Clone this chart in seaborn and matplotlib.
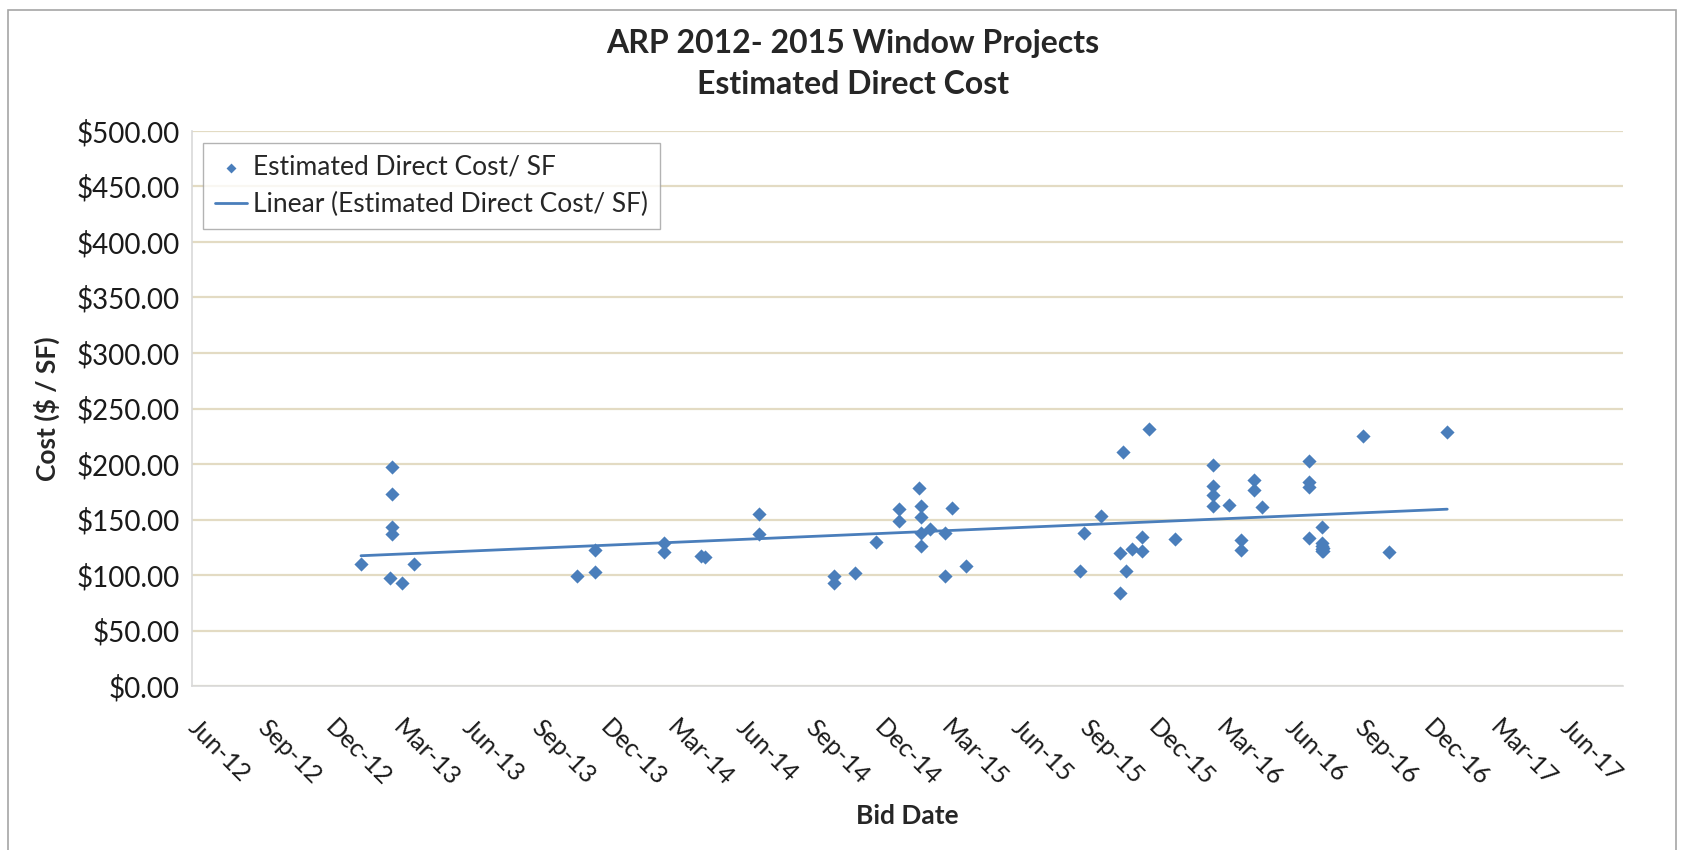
import pandas as pd
import numpy as np
import seaborn as sns
import matplotlib
matplotlib.use("Agg")
import matplotlib.pyplot as plt
import matplotlib.dates as mdates
from matplotlib.ticker import FuncFormatter

# bid dates and estimated direct cost per SF
bid_dates = [
    "2013-01-12",
    "2013-02-22", "2013-02-22", "2013-02-22", "2013-02-22",
    "2013-02-20", "2013-03-08", "2013-03-23",
    "2013-10-27", "2013-11-19", "2013-11-19",
    "2014-02-20", "2014-02-20", "2014-04-09", "2014-04-15",
    "2014-06-26", "2014-06-26",
    "2014-10-03", "2014-10-03", "2014-11-01", "2014-11-28",
    "2014-12-29", "2014-12-29",
    "2015-01-25", "2015-01-27", "2015-01-27", "2015-01-27", "2015-01-27",
    "2015-02-09", "2015-03-01", "2015-03-01", "2015-03-10", "2015-03-29",
    "2015-08-27", "2015-09-02", "2015-09-24",
    "2015-10-20", "2015-10-20", "2015-10-23", "2015-10-27",
    "2015-11-04", "2015-11-18", "2015-11-18", "2015-11-27",
    "2016-01-01",
    "2016-02-20", "2016-02-20", "2016-02-20", "2016-02-20",
    "2016-03-13", "2016-03-29", "2016-03-29",
    "2016-04-15", "2016-04-15", "2016-04-25",
    "2016-06-27", "2016-06-27", "2016-06-27", "2016-06-27",
    "2016-07-14", "2016-07-14", "2016-07-14", "2016-07-14", "2016-07-14",
    "2016-07-15", "2016-07-15",
    "2016-09-07", "2016-10-11", "2016-12-28",
]
cost_per_sf = [
    110,
    197, 173, 143.5, 137,
    97, 92.5, 110,
    99, 122.5, 103,
    129, 121, 117.5, 116,
    155, 137,
    99.5, 92.5, 101.5, 129.5,
    159.5, 148.5,
    178.5, 162, 152.5, 137.5, 126,
    141, 137.5, 99.5, 160, 108.5,
    104, 138, 153,
    120, 84, 211, 103.5,
    123, 134.5, 122, 231.5,
    132,
    199.5, 180.5, 172, 162.5,
    163.5, 131.5, 122.5,
    185.5, 177, 161,
    203, 184, 179, 133,
    143.5, 129, 126, 123.5, 121.5,
    124.5, 122,
    225, 120.5, 228.5,
]

y_ticks = list(range(0, 501, 50))
x_start = "2012-06-01"
x_span_days = 1905

blue = "#4A7EBB"

df = pd.DataFrame({"date": pd.to_datetime(bid_dates), "cost": cost_per_sf})
df["num"] = mdates.date2num(df["date"])

sns.set_theme(style="white")
plt.rcParams["font.family"] = ["Lato", "DejaVu Sans"]

fig = plt.figure(figsize=(16.92, 8.5), dpi=100)
ax = fig.add_axes([192 / 1692, 1 - 686 / 850, 1431 / 1692, 555 / 850])

sns.scatterplot(data=df, x="num", y="cost", marker="D", s=52, color=blue,
                linewidth=0, label="Estimated Direct Cost/ SF", ax=ax, zorder=3)
sns.regplot(data=df, x="num", y="cost", scatter=False, ci=None, color=blue,
            line_kws={"linewidth": 2}, label="Linear (Estimated Direct Cost/ SF)",
            ax=ax)

x0 = mdates.date2num(pd.Timestamp(x_start))
ax.set_xlim(x0, x0 + x_span_days)
ax.set_ylim(y_ticks[0], y_ticks[-1])
ax.set_yticks(y_ticks)
ax.yaxis.set_major_formatter(FuncFormatter(lambda v, p: f"${v:,.2f}"))
ax.xaxis.set_major_locator(mdates.MonthLocator(bymonth=(3, 6, 9, 12)))
ax.xaxis.set_major_formatter(mdates.DateFormatter("%b-%y"))

ax.grid(axis="y", color="#E3DBC3", linewidth=1.6)
ax.set_axisbelow(True)
for side in ["top", "right"]:
    ax.spines[side].set_visible(False)
for side in ["left", "bottom"]:
    ax.spines[side].set_color("#D9D9D9")
    ax.spines[side].set_linewidth(1.2)

ax.tick_params(axis="y", length=0, pad=9, labelsize=20, colors="#1a1a1a")
ax.tick_params(axis="x", length=0, pad=27, labelsize=18, colors="#1a1a1a")
for lbl in ax.get_xticklabels():
    lbl.set_rotation(-45)
    lbl.set_rotation_mode("anchor")
    lbl.set_ha("left")
    lbl.set_va("center")

ax.set_xlabel("Bid Date", fontsize=19, fontweight="bold", labelpad=10)
ax.set_ylabel("Cost ($ / SF)", fontsize=19, fontweight="bold", labelpad=12)

fig.text(0.504, 1 - 44 / 850, "ARP 2012- 2015 Window Projects", ha="center",
         va="center", fontsize=23, fontweight="bold")
fig.text(0.504, 1 - 85 / 850, "Estimated Direct Cost", ha="center",
         va="center", fontsize=23, fontweight="bold")

leg = ax.legend(loc="upper left", bbox_to_anchor=(11 / 1431, 1 - 12 / 555),
                fontsize=19, frameon=True, fancybox=False, borderpad=0.45,
                handlelength=1.2, handletextpad=0.25, labelspacing=0.45,
                borderaxespad=0, markerscale=0.7)
leg.get_frame().set_edgecolor("#A0A0A0")
leg.get_frame().set_linewidth(1.0)

# outer chart border
fig.patches.append(plt.Rectangle((8 / 1692, -0.01), 1668 / 1692, 1 - 10 / 850 + 0.01,
                                 transform=fig.transFigure, fill=False,
                                 edgecolor="#A6A6A6", linewidth=1.2))

fig.savefig("out.png", dpi=100)
